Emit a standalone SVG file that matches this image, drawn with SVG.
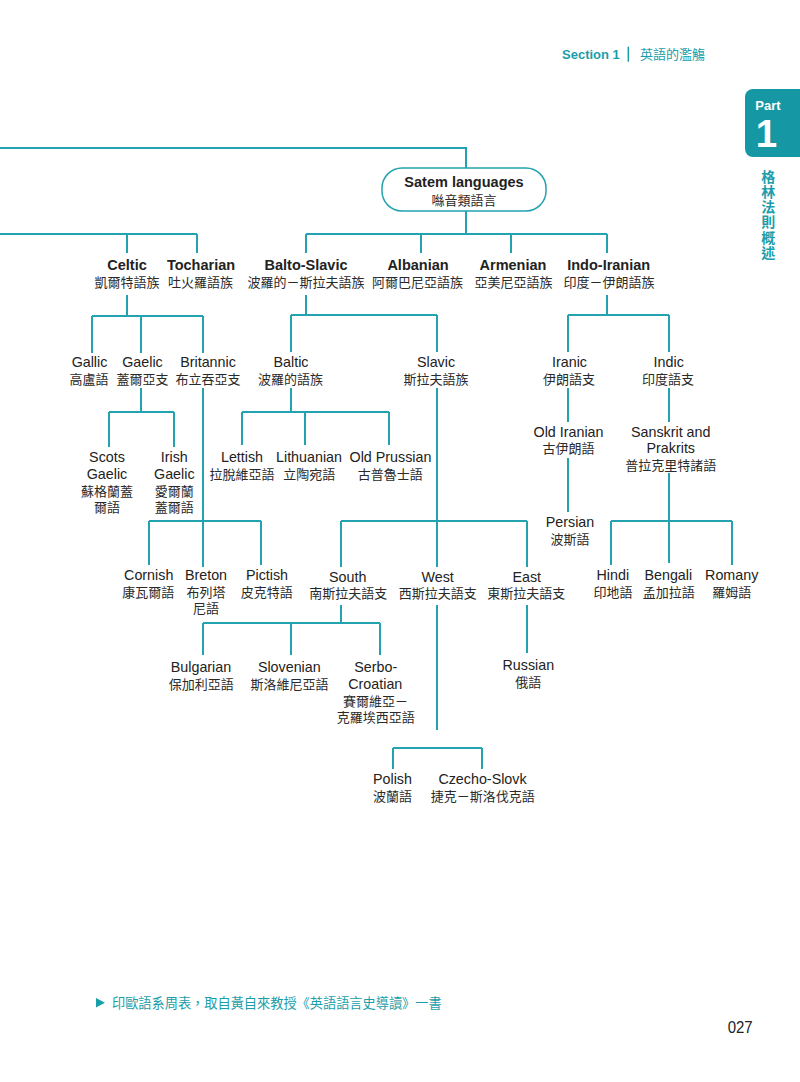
<svg xmlns="http://www.w3.org/2000/svg" width="800" height="1082" viewBox="0 0 800 1082">
<style>
.en{font-family:"Liberation Sans",Arial,sans-serif;font-size:14.3px;fill:#222;text-anchor:middle}
.b{font-weight:bold;font-size:14.5px}
.zh{font-family:"Liberation Sans","Noto Sans CJK TC","Noto Sans CJK JP","Noto Sans CJK SC",sans-serif;font-size:13px;fill:#2a2a2a;text-anchor:middle}
.ln{fill:none;stroke:#23a2af;stroke-width:2}
.teal{fill:#1a9eaa}
</style>
<rect width="800" height="1082" fill="#fff"/>
<g id="header">
<text x="562" y="59" class="teal" style="font-family:'Liberation Sans',Arial,sans-serif;font-weight:bold;font-size:13px">Section 1</text>
<line x1="628.3" y1="46.7" x2="628.3" y2="61.7" stroke="#1a9eaa" stroke-width="1.5"/>
<text x="640" y="59" class="teal" style="font-family:'Noto Sans CJK TC',sans-serif;font-size:13px">英語的濫觴</text>
</g>
<g id="part-tab">
<rect x="745" y="89" width="70" height="68" rx="8" fill="#1598a3"/>
<text x="768" y="109.7" fill="#fff" text-anchor="middle" style="font-family:'Liberation Sans',Arial,sans-serif;font-weight:bold;font-size:13px">Part</text>
<text x="766.5" y="146.7" fill="#fff" text-anchor="middle" style="font-family:'Liberation Sans',Arial,sans-serif;font-weight:bold;font-size:38.5px">1</text>
<text x="768.3" y="169.5" class="teal" writing-mode="tb" style="writing-mode:vertical-rl;font-family:'Noto Sans CJK TC',sans-serif;font-weight:bold;font-size:14px;letter-spacing:1.2px">格林法則概述</text>
</g>
<g id="connectors">
<path class="ln" d="M0,148 H466 V168"/>
<path class="ln" d="M466,211 V234"/>
<path class="ln" d="M0,234 H197 M127,234 V253 M197,234 V253"/>
<path class="ln" d="M306,234 H607 M306,234 V253 M421,234 V253 M511,234 V253 M607,234 V253"/>
<path class="ln" d="M127,295 V316 M92,316 H203 M92,316 V353 M141,316 V353 M203,316 V353"/>
<path class="ln" d="M306,295 V315 M291,315 H437 M291,315 V352 M437,315 V352"/>
<path class="ln" d="M607,295 V315 M568,315 H669 M568,315 V352 M669,315 V352"/>
<path class="ln" d="M141,388 V412 M109,412 H174 M109,412 V447 M174,412 V447"/>
<path class="ln" d="M203,388 V567 M149,521 H261 M149,521 V565 M261,521 V565"/>
<path class="ln" d="M291,388 V412 M242,412 H389 M242,412 V445 M305,412 V445 M389,412 V445"/>
<path class="ln" d="M437,388 V567 M437,605 V730 M341,521 H527 M341,521 V567 M527,521 V567"/>
<path class="ln" d="M568,388 V422 M568,458 V512"/>
<path class="ln" d="M669,388 V422 M669,473 V563 M611,521 H732 M611,521 V565 M732,521 V565"/>
<path class="ln" d="M341,605 V623 M203,623 H380 M203,623 V655 M291,623 V655 M380,623 V655"/>
<path class="ln" d="M527,605 V653"/>
<path class="ln" d="M393,748 H482 M393,748 V769 M482,748 V769"/>
</g>
<g id="satem">
<rect x="382" y="168" width="164" height="43" rx="20" fill="#fff" stroke="#23a2af" stroke-width="1.5"/>
<text x="464" y="187.2" class="en b">Satem languages</text>
<text x="464" y="205" class="zh">噝音類語言</text>
</g>
<g id="celtic"><text x="127" y="270" class="en b">Celtic</text><text x="127" y="287" class="zh">凱爾特語族</text></g>
<g id="tocharian"><text x="201" y="270" class="en b">Tocharian</text><text x="200.5" y="287" class="zh">吐火羅語族</text></g>
<g id="balto-slavic"><text x="306" y="270" class="en b">Balto-Slavic</text><text x="306" y="287" class="zh">波羅的－斯拉夫語族</text></g>
<g id="albanian"><text x="418" y="270" class="en b">Albanian</text><text x="417.5" y="287" class="zh">阿爾巴尼亞語族</text></g>
<g id="armenian"><text x="513" y="270" class="en b">Armenian</text><text x="513.5" y="287" class="zh">亞美尼亞語族</text></g>
<g id="indo-iranian"><text x="608.7" y="270" class="en b">Indo-Iranian</text><text x="609" y="287" class="zh">印度－伊朗語族</text></g>
<g id="gallic"><text x="89.5" y="367.4" class="en">Gallic</text><text x="89" y="383.5" class="zh">高盧語</text></g>
<g id="gaelic"><text x="142.5" y="367.4" class="en">Gaelic</text><text x="142.5" y="383.5" class="zh">蓋爾亞支</text></g>
<g id="britannic"><text x="208" y="367.4" class="en">Britannic</text><text x="208" y="383.5" class="zh">布立吞亞支</text></g>
<g id="baltic"><text x="291" y="367.4" class="en">Baltic</text><text x="290.5" y="383.5" class="zh">波羅的語族</text></g>
<g id="slavic"><text x="436" y="367.4" class="en">Slavic</text><text x="436" y="383.5" class="zh">斯拉夫語族</text></g>
<g id="iranic"><text x="569.5" y="367.4" class="en">Iranic</text><text x="569" y="383.5" class="zh">伊朗語支</text></g>
<g id="indic"><text x="668.7" y="367.4" class="en">Indic</text><text x="668" y="383.5" class="zh">印度語支</text></g>
<g id="scots-gaelic"><text x="107" y="462.2" class="en">Scots</text><text x="107" y="478.5" class="en">Gaelic</text><text x="107" y="495.8" class="zh">蘇格蘭蓋</text><text x="107" y="512.4" class="zh">爾語</text></g>
<g id="irish-gaelic"><text x="174.3" y="462.2" class="en">Irish</text><text x="174.3" y="478.5" class="en">Gaelic</text><text x="174.3" y="495.8" class="zh">愛爾蘭</text><text x="174.3" y="512.4" class="zh">蓋爾語</text></g>
<g id="lettish"><text x="242" y="462.2" class="en">Lettish</text><text x="242" y="479" class="zh">拉脫維亞語</text></g>
<g id="lithuanian"><text x="309" y="462.2" class="en">Lithuanian</text><text x="309.3" y="479" class="zh">立陶宛語</text></g>
<g id="old-prussian"><text x="390.5" y="462.2" class="en">Old Prussian</text><text x="390.3" y="479" class="zh">古普魯士語</text></g>
<g id="old-iranian"><text x="568.5" y="436.8" class="en">Old Iranian</text><text x="568.5" y="453.4" class="zh">古伊朗語</text></g>
<g id="sanskrit"><text x="670.7" y="436.8" class="en">Sanskrit and</text><text x="670.8" y="453.4" class="en">Prakrits</text><text x="670.8" y="470" class="zh">普拉克里特諸語</text></g>
<g id="persian"><text x="570" y="527.4" class="en">Persian</text><text x="570" y="544.3" class="zh">波斯語</text></g>
<g id="cornish"><text x="148.7" y="580.1" class="en">Cornish</text><text x="148.3" y="597" class="zh">康瓦爾語</text></g>
<g id="breton"><text x="206" y="580.1" class="en">Breton</text><text x="206" y="597" class="zh">布列塔</text><text x="206" y="613.4" class="zh">尼語</text></g>
<g id="pictish"><text x="267" y="580.1" class="en">Pictish</text><text x="266.7" y="597" class="zh">皮克特語</text></g>
<g id="south"><text x="347.7" y="582.4" class="en">South</text><text x="348.3" y="598.4" class="zh">南斯拉夫語支</text></g>
<g id="west"><text x="437.7" y="582.4" class="en">West</text><text x="437.7" y="598.4" class="zh">西斯拉夫語支</text></g>
<g id="east"><text x="526.7" y="582.4" class="en">East</text><text x="526.3" y="598.4" class="zh">東斯拉夫語支</text></g>
<g id="hindi"><text x="612.8" y="580.1" class="en">Hindi</text><text x="613" y="596.8" class="zh">印地語</text></g>
<g id="bengali"><text x="668.3" y="580.1" class="en">Bengali</text><text x="668.8" y="596.8" class="zh">孟加拉語</text></g>
<g id="romany"><text x="731.7" y="580.1" class="en">Romany</text><text x="731.7" y="596.8" class="zh">羅姆語</text></g>
<g id="bulgarian"><text x="201" y="672.4" class="en">Bulgarian</text><text x="201.2" y="689" class="zh">保加利亞語</text></g>
<g id="slovenian"><text x="289.3" y="672.4" class="en">Slovenian</text><text x="289.5" y="689" class="zh">斯洛維尼亞語</text></g>
<g id="serbo-croatian"><text x="375.8" y="672.4" class="en">Serbo-</text><text x="375.3" y="689" class="en">Croatian</text><text x="375.5" y="705.8" class="zh">賽爾維亞－</text><text x="375.8" y="722.4" class="zh">克羅埃西亞語</text></g>
<g id="russian"><text x="528.3" y="670.1" class="en">Russian</text><text x="528.3" y="686.8" class="zh">俄語</text></g>
<g id="polish"><text x="392.5" y="784.4" class="en">Polish</text><text x="392.5" y="801" class="zh">波蘭語</text></g>
<g id="czecho-slovk"><text x="482.5" y="784.4" class="en">Czecho-Slovk</text><text x="482.8" y="801" class="zh">捷克－斯洛伐克語</text></g>
<g id="footer">
<polygon points="96,998 105,1002.7 96,1007.4" fill="#1a9eaa"/>
<text x="112" y="1007.6" class="teal" style="font-family:'Noto Sans CJK TC',sans-serif;font-size:13.2px">印歐語系周表，取自黃自來教授《英語語言史導讀》一書</text>
<text x="740.2" y="1033.3" text-anchor="middle" textLength="25" lengthAdjust="spacingAndGlyphs" fill="#222" style="font-family:'Liberation Sans',Arial,sans-serif;font-size:17px">027</text>
</g>
</svg>
